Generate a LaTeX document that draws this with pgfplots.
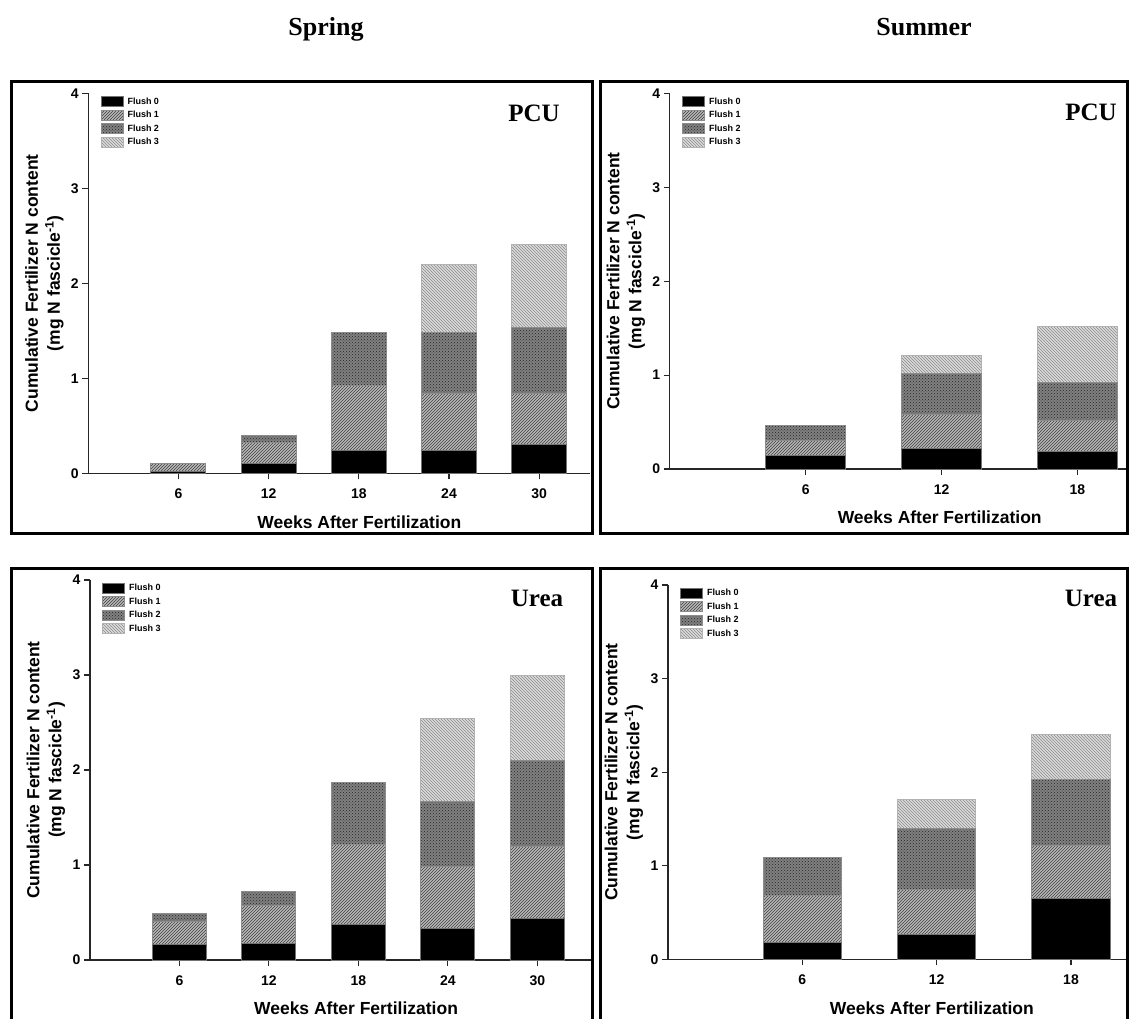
\documentclass[border=0pt]{standalone}
\usepackage{fontspec}
\setmainfont{Liberation Sans}
\newfontfamily\serifb{Liberation Serif}
\usepackage{pgfplots}
\pgfplotsset{compat=1.18}
\usetikzlibrary{patterns}

\pgfplotsset{
  my legend/.style={legend image code/.code={\draw[##1] (0pt,-5pt) rectangle (22pt,5pt);}},
  fl0/.style={fill=black, draw=black!55, line width=1pt},
  fl1/.style={fill=black!28, draw=black!45, line width=1pt, postaction={pattern=north east lines, pattern color=black!75}},
  fl2/.style={fill=black!50, draw=black!45, line width=1pt, postaction={pattern=crosshatch dots, pattern color=black!85}},
  fl3/.style={fill=black!14, draw=black!30, line width=1pt, postaction={pattern=north west lines, pattern color=black!45}},
  panel/.style={
    scale only axis, anchor=south west,
    ybar stacked,
    every axis plot post/.append style={my legend},
    ymin=0, ymax=4, ytick={0,1,2,3,4}, xmin=0,
    axis x line*=bottom, axis y line*=left,
    axis line style={line width=1.3pt, black!85},
    major tick style={line width=1.1pt, black!85},
    major tick length=6pt, tick align=outside,
    tick label style={font=\bfseries\fontsize{14}{14}\selectfont},
    xticklabel style={yshift=-6pt},
    /pgf/number format/assume math mode=true,
    xlabel={Weeks After Fertilization},
    ylabel={Cumulative Fertilizer N content\\(mg N fascicle\textsuperscript{-1})},
    label style={font=\bfseries\fontsize{17.5}{22}\selectfont, align=center},
    ylabel style={at={([xshift=-44pt]axis description cs:0,0.5)}, anchor=center},
    legend style={at={([xshift=12pt,yshift=-2.5pt]axis description cs:0,1)}, anchor=north west,
      draw=none, fill=none, inner sep=0pt, row sep=2.5pt, column sep=3pt,
      font=\bfseries\fontsize{9}{9}\selectfont, nodes={inner sep=1pt}},
    legend cell align=left,
  }
}

\begin{document}
\begin{tikzpicture}
\useasboundingbox (0pt,0pt) rectangle (1130pt,-1019pt);
\fill[white] (0pt,0pt) rectangle (1130pt,-1019pt);

% ---------- Spring PCU ----------
\begin{axis}[panel, at={(88.3pt,-473.3pt)}, width=502pt, height=380pt,
  xmax=33.4, bar width=3.66, xtick={6,12,18,24,30},
  xlabel style={at={([yshift=-48.5pt]axis description cs:0.54,0)}, anchor=center}]
\addplot[fl0] coordinates {(6,0.02) (12,0.10) (18,0.24) (24,0.24) (30,0.30)};
\addplot[fl1] coordinates {(6,0.08) (12,0.22) (18,0.68) (24,0.60) (30,0.535)};
\addplot[fl2] coordinates {(6,0) (12,0.08) (18,0.56) (24,0.64) (30,0.705)};
\addplot[fl3] coordinates {(6,0) (12,0) (18,0) (24,0.72) (30,0.87)};
\legend{Flush 0,Flush 1,Flush 2,Flush 3}
\end{axis}

% ---------- Summer PCU ----------
\begin{axis}[panel, at={(669.8pt,-469pt)}, width=457.5pt, height=375.7pt,
  xmax=20.2, bar width=3.55, xtick={6,12,18},
  xlabel style={at={([yshift=-48.5pt]axis description cs:0.59,0)}, anchor=center}]
\addplot[fl0] coordinates {(6,0.14) (12,0.22) (18,0.19)};
\addplot[fl1] coordinates {(6,0.16) (12,0.365) (18,0.33)};
\addplot[fl2] coordinates {(6,0.165) (12,0.435) (18,0.40)};
\addplot[fl3] coordinates {(6,0) (12,0.19) (18,0.595)};
\legend{Flush 0,Flush 1,Flush 2,Flush 3}
\end{axis}

% ---------- Spring Urea ----------
\begin{axis}[panel, at={(90pt,-960pt)}, width=501pt, height=380pt,
  xmax=33.6, bar width=3.62, xtick={6,12,18,24,30},
  xlabel style={at={([yshift=-48.5pt]axis description cs:0.531,0)}, anchor=center}]
\addplot[fl0] coordinates {(6,0.16) (12,0.175) (18,0.375) (24,0.33) (30,0.44)};
\addplot[fl1] coordinates {(6,0.25) (12,0.395) (18,0.845) (24,0.65) (30,0.76)};
\addplot[fl2] coordinates {(6,0.08) (12,0.155) (18,0.65) (24,0.69) (30,0.90)};
\addplot[fl3] coordinates {(6,0) (12,0) (18,0) (24,0.87) (30,0.89)};
\legend{Flush 0,Flush 1,Flush 2,Flush 3}
\end{axis}

% ---------- Summer Urea ----------
\begin{axis}[panel, at={(668pt,-959.3pt)}, width=459pt, height=374.3pt,
  xmax=20.5, bar width=3.5, xtick={6,12,18},
  xlabel style={at={([yshift=-48.5pt]axis description cs:0.575,0)}, anchor=center}]
\addplot[fl0] coordinates {(6,0.18) (12,0.26) (18,0.65)};
\addplot[fl1] coordinates {(6,0.50) (12,0.49) (18,0.57)};
\addplot[fl2] coordinates {(6,0.41) (12,0.65) (18,0.70)};
\addplot[fl3] coordinates {(6,0) (12,0.31) (18,0.48)};
\legend{Flush 0,Flush 1,Flush 2,Flush 3}
\end{axis}

% ---------- frames and titles ----------
\draw[line width=3pt] (11.5pt,-82pt) rectangle (592pt,-533.5pt);
\draw[line width=3pt] (600pt,-82pt) rectangle (1127.5pt,-533.5pt);
\draw[line width=3pt] (11.5pt,-1030pt) -- (11.5pt,-568pt) -- (592pt,-568pt) -- (592pt,-1030pt);
\draw[line width=3pt] (600pt,-1030pt) -- (600pt,-568pt) -- (1127.5pt,-568pt) -- (1127.5pt,-1030pt);

\node[font=\serifb\bfseries\fontsize{26}{26}\selectfont, anchor=base] at (326pt,-36pt) {Spring};
\node[font=\serifb\bfseries\fontsize{26}{26}\selectfont, anchor=base] at (924pt,-36pt) {Summer};
\node[font=\serifb\bfseries\fontsize{25}{25}\selectfont] at (534pt,-113pt) {PCU};
\node[font=\serifb\bfseries\fontsize{25}{25}\selectfont] at (1091pt,-112pt) {PCU};
\node[font=\serifb\bfseries\fontsize{25}{25}\selectfont] at (537pt,-598pt) {Urea};
\node[font=\serifb\bfseries\fontsize{25}{25}\selectfont] at (1091pt,-598pt) {Urea};
\end{tikzpicture}
\end{document}
